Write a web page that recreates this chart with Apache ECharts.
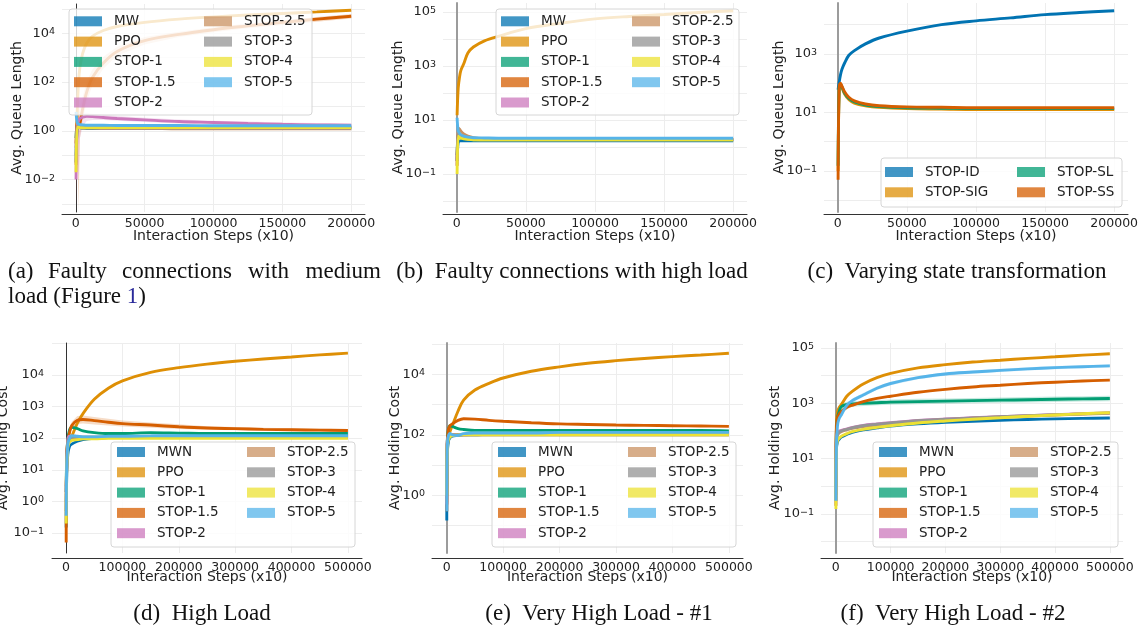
<!DOCTYPE html>
<html>
<head>
<meta charset="utf-8">
<script src="https://cdn.jsdelivr.net/npm/echarts@6/dist/echarts.min.js"></script>
<style>
html, body { margin: 0; padding: 0; background: #fff; }
#chart { width: 1146px; height: 634px; }
</style>
</head>
<body>
<div id="chart"></div>
<script>
// sample steps (x10)
var stepsShort = [200, 1000, 2000, 3000, 5000, 8000, 12000, 20000, 30000, 50000, 75000, 100000, 125000, 150000, 175000, 200000];
var stepsLong = [200, 1000, 3000, 6000, 10000, 20000, 30000, 50000, 75000, 100000, 150000, 200000, 250000, 300000, 350000, 400000, 450000, 500000];

// (a) faulty connections, medium load
var aMW = [0.05, 1.3, 1.4, 1.45, 1.45, 1.45, 1.45, 1.45, 1.45, 1.45, 1.45, 1.45, 1.45, 1.45, 1.45, 1.45];
var aPPO = [0.04, 5, 100, 400, 1500, 4000, 7500, 13000, 19000, 28000, 38000, 47000, 56000, 65000, 75000, 88000];
var aStop1 = [0.5, 1.8, 1.5, 1.35, 1.3, 1.25, 1.25, 1.25, 1.25, 1.25, 1.25, 1.25, 1.25, 1.25, 1.25, 1.3];
var aStop15 = [0.3, 3, 1.5, 2, 8, 40, 150, 600, 1800, 5000, 9000, 14000, 20000, 28000, 38000, 50000];
var aStop15Lo = [0.0005, 1, 0.0005, 0.5, 3, 15, 70, 350, 1200, 3500, 7000, 11000, 16000, 22000, 30000, 40000];
var aStop15Hi = [1, 6, 8, 10, 25, 110, 330, 1100, 2800, 7000, 11500, 17500, 25000, 34000, 46000, 62000];
var aStop2 = [0.01, 1.5, 2.5, 3.2, 3.6, 3.9, 3.8, 3.5, 3.2, 2.8, 2.4, 2.2, 2.0, 1.85, 1.75, 1.7];
var aStop2Lo = [0.0005, 0.3, 0.01, 0.5, 1.5, 2.5, 2.8, 2.8, 2.6, 2.3, 2.0, 1.8, 1.7, 1.6, 1.5, 1.5];
var aStop2Hi = [0.5, 4, 6, 6, 5.5, 5.5, 5, 4.5, 4, 3.4, 2.9, 2.6, 2.4, 2.2, 2.1, 2.0];
var aStop25 = [0.2, 1.6, 1.5, 1.4, 1.3, 1.3, 1.3, 1.25, 1.25, 1.25, 1.2, 1.2, 1.2, 1.2, 1.2, 1.2];
var aStop3 = [0.1, 1.5, 1.4, 1.35, 1.3, 1.3, 1.3, 1.3, 1.3, 1.3, 1.3, 1.3, 1.3, 1.3, 1.3, 1.3];
var aStop4 = [0.02, 1.4, 1.4, 1.35, 1.35, 1.35, 1.35, 1.35, 1.35, 1.35, 1.35, 1.35, 1.35, 1.35, 1.35, 1.35];
var aStop5 = [6, 2.2, 1.9, 1.8, 1.75, 1.7, 1.7, 1.7, 1.65, 1.65, 1.65, 1.6, 1.6, 1.6, 1.6, 1.6];

// (b) faulty connections, high load
var bMW = [0.3, 1.5, 1.65, 1.7, 1.7, 1.7, 1.7, 1.7, 1.7, 1.7, 1.7, 1.7, 1.7, 1.7, 1.7, 1.7];
var bPPO = [15, 150, 400, 700, 1200, 3000, 5000, 8500, 12500, 24000, 38000, 55000, 68000, 80000, 95000, 110000];
var bStop1 = [0.5, 3, 2.5, 2.2, 2.0, 1.9, 1.85, 1.8, 1.8, 1.8, 1.8, 1.8, 1.8, 1.8, 1.8, 1.8];
var bStop15 = [0.3, 3.5, 3, 2.6, 2.3, 2.1, 2.0, 1.95, 1.9, 1.9, 1.9, 1.9, 1.9, 1.9, 1.9, 1.9];
var bStop2 = [0.2, 3, 2.7, 2.4, 2.2, 2.0, 1.95, 1.9, 1.9, 1.9, 1.9, 1.9, 1.9, 1.9, 1.9, 1.9];
var bStop25 = [0.2, 5, 4.5, 3.8, 3, 2.5, 2.2, 2.0, 1.95, 1.9, 1.9, 1.9, 1.9, 1.9, 1.9, 1.9];
var bStop3 = [0.3, 3, 2.6, 2.3, 2.1, 1.9, 1.85, 1.8, 1.8, 1.8, 1.8, 1.8, 1.8, 1.8, 1.8, 1.8];
var bStop4 = [0.1, 2.5, 2.3, 2.1, 2.0, 1.9, 1.85, 1.85, 1.85, 1.85, 1.85, 1.85, 1.85, 1.85, 1.85, 1.85];
var bStop5 = [12, 4, 3.2, 2.8, 2.5, 2.3, 2.2, 2.15, 2.1, 2.1, 2.1, 2.1, 2.1, 2.1, 2.1, 2.1];

// (c) varying state transformation
var cID = [60, 110, 200, 300, 500, 900, 1300, 2200, 3500, 6000, 10000, 13500, 17000, 22000, 26000, 30000];
var cSIG = [0.1, 70, 85, 70, 42, 28, 21, 17, 15, 13.5, 13, 12.5, 12.5, 12.5, 12.5, 12.5];
var cSIGLo = [0.05, 50, 65, 55, 34, 23, 18, 15, 13.5, 12.3, 11.8, 11.5, 11.5, 11.5, 11.5, 11.5];
var cSIGHi = [0.3, 90, 110, 90, 55, 35, 26, 20, 17, 15, 14.3, 13.8, 13.6, 13.6, 13.6, 13.6];
var cSL = [0.15, 75, 90, 75, 45, 30, 23, 18, 16, 14.5, 14, 13.5, 13.5, 13.5, 13.5, 13.5];
var cSS = [0.05, 80, 100, 80, 50, 33, 25, 19.5, 17, 15.5, 15, 14.5, 14.5, 14.5, 14.5, 14.5];

// (d) high load
var dMWN = [0.15, 5, 30, 55, 65, 80, 90, 100, 105, 110, 115, 115, 115, 115, 118, 118, 120, 120];
var dPPO = [0.5, 20, 60, 90, 115, 300, 600, 1700, 3800, 6500, 12000, 17000, 22000, 27000, 32000, 37000, 43000, 49000];
var dStop1 = [2, 20, 90, 180, 220, 200, 170, 150, 140, 140, 150, 145, 140, 140, 140, 140, 140, 140];
var dStop15 = [0.05, 30, 80, 150, 250, 370, 390, 360, 320, 290, 260, 230, 210, 200, 190, 185, 180, 175];
var dStop15Lo = [0.03, 20, 60, 110, 190, 280, 290, 270, 250, 235, 215, 195, 185, 178, 170, 165, 162, 158];
var dStop15Hi = [0.08, 45, 110, 200, 330, 500, 520, 470, 410, 360, 315, 275, 240, 225, 212, 205, 198, 192];
var dStop2 = [2, 10, 90, 115, 110, 105, 105, 105, 105, 105, 105, 105, 105, 105, 105, 105, 105, 105];
var dStop25 = [3, 10, 70, 100, 105, 105, 105, 105, 105, 105, 105, 105, 108, 108, 108, 108, 108, 108];
var dStop3 = [1, 10, 80, 100, 105, 110, 110, 110, 110, 110, 110, 110, 110, 110, 110, 110, 110, 110];
var dStop4 = [0.2, 8, 50, 75, 85, 90, 95, 95, 100, 100, 100, 100, 100, 100, 100, 100, 100, 100];
var dStop5 = [0.35, 10, 60, 100, 120, 115, 110, 110, 115, 115, 118, 120, 120, 120, 120, 120, 120, 120];

// (e) very high load #1
var eMWN = [0.15, 20, 60, 80, 90, 95, 100, 100, 105, 105, 110, 110, 110, 115, 115, 115, 115, 115];
var ePPO = [0.5, 30, 80, 130, 200, 600, 1400, 3000, 5000, 7500, 12500, 17500, 23000, 28000, 33000, 38000, 43000, 49000];
var eStop1 = [1, 60, 150, 200, 190, 160, 150, 140, 140, 140, 140, 140, 140, 140, 140, 140, 140, 135];
var eStop15 = [0.3, 50, 150, 200, 230, 300, 340, 330, 300, 280, 250, 230, 220, 210, 205, 200, 195, 190];
var eStop2 = [0.5, 60, 90, 100, 100, 100, 100, 105, 105, 105, 105, 105, 105, 105, 105, 105, 105, 105];
var eStop25 = [0.6, 50, 85, 95, 100, 100, 100, 100, 100, 100, 100, 100, 100, 100, 100, 100, 100, 100];
var eStop3 = [2, 50, 80, 90, 95, 100, 100, 100, 100, 100, 100, 100, 100, 100, 100, 100, 100, 100];
var eStop4 = [1, 40, 70, 85, 95, 98, 100, 100, 100, 100, 100, 100, 100, 100, 100, 100, 100, 100];
var eStop5 = [0.3, 40, 90, 110, 100, 95, 110, 115, 115, 115, 115, 120, 120, 120, 120, 120, 120, 120];

// (f) very high load #2
var fMWN = [0.3, 20, 40, 50, 60, 75, 90, 110, 130, 150, 180, 205, 225, 245, 260, 275, 285, 295];
var fPPO = [1, 150, 500, 700, 900, 1800, 2700, 5000, 8500, 12000, 19000, 25000, 31000, 36000, 42000, 48000, 55000, 62000];
var fStop1 = [1, 80, 300, 500, 750, 900, 950, 1000, 1050, 1100, 1150, 1200, 1250, 1300, 1350, 1400, 1450, 1500];
var fStop1Lo = [0.5, 50, 200, 350, 550, 700, 750, 800, 850, 880, 920, 960, 1000, 1040, 1080, 1120, 1160, 1200];
var fStop1Hi = [2, 120, 400, 650, 950, 1150, 1200, 1250, 1300, 1380, 1450, 1500, 1560, 1620, 1690, 1750, 1810, 1880];
var fStop15 = [0.5, 100, 300, 400, 500, 700, 850, 1150, 1500, 1800, 2500, 3200, 3900, 4500, 5200, 5800, 6400, 6900];
var fStop2 = [0.2, 50, 90, 100, 105, 120, 135, 160, 180, 200, 240, 270, 300, 330, 360, 390, 420, 450];
var fStop25 = [0.2, 40, 70, 85, 95, 110, 125, 145, 165, 185, 225, 255, 290, 320, 350, 380, 410, 440];
var fStop3 = [0.3, 40, 75, 90, 100, 115, 130, 155, 175, 195, 235, 265, 295, 325, 355, 385, 415, 450];
var fStop4 = [0.15, 25, 45, 55, 65, 80, 95, 115, 135, 155, 195, 230, 265, 300, 340, 380, 420, 460];
var fStop5 = [0.3, 20, 150, 280, 380, 850, 1250, 2000, 3500, 5200, 8500, 11500, 13500, 15500, 17500, 19500, 21000, 22500];
var fStop5Lo = [0.2, 15, 110, 220, 300, 700, 1050, 1700, 3000, 4500, 7400, 10000, 11800, 13500, 15300, 17000, 18400, 19600];
var fStop5Hi = [0.4, 28, 200, 350, 470, 1000, 1500, 2350, 4100, 6000, 9800, 13200, 15500, 17800, 20000, 22300, 24000, 25800];

// y tick exponents that carry a label
var yLabelled = [[-2, 0, 2, 4], [-1, 1, 3, 5], [-1, 1, 3], [-1, 0, 1, 2, 3, 4], [0, 2, 4], [-1, 1, 3, 5]];

var FONT = 'DejaVu Sans';
var SERIF = 'Liberation Serif';
var palette = {
	'MW': '#0173b2', 'MWN': '#0173b2', 'STOP-ID': '#0173b2',
	'PPO': '#de8f05', 'STOP-SIG': '#de8f05',
	'STOP-1': '#029e73', 'STOP-SL': '#029e73',
	'STOP-1.5': '#d55e00', 'STOP-SS': '#d55e00',
	'STOP-2': '#cc78bc', 'STOP-2.5': '#ca9161', 'STOP-3': '#949494',
	'STOP-4': '#ece133', 'STOP-5': '#56b4e9'
};

function rgba(hex, a) {
	var n = parseInt(hex.slice(1), 16);
	return 'rgba(' + (n >> 16) + ',' + ((n >> 8) & 255) + ',' + (n & 255) + ',' + a + ')';
}

function lineSeries(p, name, xs, ys) {
	var data = [];
	for (var i = 0; i < xs.length; i++) data.push([xs[i], ys[i]]);
	return {
		type: 'line', name: name, xAxisIndex: p, yAxisIndex: p, data: data,
		symbol: 'none', showSymbol: false, smooth: 0.35,
		lineStyle: { width: 2.9, color: palette[name] },
		itemStyle: { color: palette[name] },
		silent: true, z: 2
	};
}

// shaded spread around a curve, drawn as one polygon through the axes
function bandSeries(p, name, xs, lo, hi) {
	var data = [];
	for (var i = 0; i < xs.length; i++) data.push([xs[i], lo[i], hi[i]]);
	var fill = rgba(palette[name], 0.22);
	return {
		type: 'custom', xAxisIndex: p, yAxisIndex: p, data: data,
		encode: { x: 0, y: [1, 2] }, clip: true, silent: true, z: 1,
		renderItem: function (params, api) {
			if (params.dataIndex !== 0) return null;
			var up = [], dn = [];
			for (var j = 0; j < params.dataInsideLength; j++) {
				up.push(api.coord([api.value(0, j), api.value(2, j)]));
				dn.unshift(api.coord([api.value(0, j), api.value(1, j)]));
			}
			return { type: 'polygon', shape: { points: up.concat(dn) }, style: { fill: fill } };
		}
	};
}

var grids = [
	{ left: 62, top: 4, width: 303, height: 208 },
	{ left: 443, top: 3, width: 304, height: 209 },
	{ left: 824, top: 3, width: 304, height: 209 },
	{ left: 52, top: 343, width: 310, height: 210 },
	{ left: 432, top: 343, width: 311, height: 210 },
	{ left: 821, top: 343, width: 302, height: 210 }
];
var xRange = [[-10000, 210000], [-10000, 210000], [-10000, 210000], [-25000, 525000], [-26000, 525000], [-27000, 524000]];
var xStep = [50000, 50000, 50000, 100000, 100000, 100000];
var yRange = [[-3.33, 5.2], [-2.41, 5.33], [-2.4, 4.74], [-1.63, 5.01], [-1.9, 5.03], [-2.41, 5.18]];
var yNames = ['Avg. Queue Length', 'Avg. Queue Length', 'Avg. Queue Length', 'Avg. Holding Cost', 'Avg. Holding Cost', 'Avg. Holding Cost'];
var yNameGap = [35, 35, 35, 38, 27, 36];
var yOff = [3, 3, 3, 4, 3, 3];
var yLineColor = ['#333', '#9c9c9c', '#9c9c9c', '#333', '#9c9c9c', '#9c9c9c'];
var yLineWidth = [1, 2, 2, 1, 2, 2];
var xOff = [2, 2, 2, 5, 5, 5];
var xNameGap = [15, 15, 15, 12, 12, 12];

function logLabel(shown) {
	return function (v) {
		var l = Math.log10(v);
		var e = Math.round(l);
		if (Math.abs(l - e) > 1e-6 || shown.indexOf(e) < 0) return '';
		return '{b|10}{e|' + String(e).replace('-', '\u2212') + '}';
	};
}
function stepLabel(step, max) {
	return function (v) {
		if (v < 0 || v > max || v % step !== 0) return '';
		return String(v);
	};
}

var xAxes = [], yAxes = [];
for (var p = 0; p < 6; p++) {
	xAxes.push({
		type: 'value', gridIndex: p, min: xRange[p][0], max: xRange[p][1], offset: xOff[p], splitNumber: 5,
		name: 'Interaction Steps (x10)', nameLocation: 'middle', nameGap: xNameGap[p], nameMoveOverlap: false,
		nameTextStyle: { fontFamily: FONT, fontSize: 14, color: '#222' },
		axisLine: { show: true, onZero: false, lineStyle: { color: '#333', width: 1 } },
		axisTick: { show: false },
		axisLabel: {
			margin: 3, fontFamily: FONT, fontSize: 12.5, color: '#222',
			showMinLabel: false, showMaxLabel: false,
			formatter: stepLabel(xStep[p], p < 3 ? 200000 : 500000)
		},
		splitLine: { show: true, showMinLine: false, showMaxLine: false, lineStyle: { color: '#ededed', width: 1 } }
	});
	yAxes.push({
		type: 'log', logBase: 10, gridIndex: p,
		min: Math.pow(10, yRange[p][0]), max: Math.pow(10, yRange[p][1]), offset: yOff[p],
		name: yNames[p], nameLocation: 'middle', nameGap: yNameGap[p], nameMoveOverlap: false,
		nameTextStyle: { fontFamily: FONT, fontSize: 14, color: '#222' },
		axisLine: { show: true, lineStyle: { color: yLineColor[p], width: yLineWidth[p] } },
		axisTick: { show: false },
		axisLabel: {
			margin: 4, color: '#222', showMinLabel: false, showMaxLabel: false,
			formatter: logLabel(yLabelled[p]),
			rich: {
				b: { fontFamily: FONT, fontSize: 13, color: '#222', verticalAlign: 'bottom', lineHeight: 13 },
				e: { fontFamily: FONT, fontSize: 9.5, color: '#222', verticalAlign: 'top', lineHeight: 9, padding: [0, 0, 5, 0] }
			}
		},
		splitLine: { show: true, showMinLine: false, showMaxLine: false, lineStyle: { color: '#ededed', width: 1 } },
		minorTick: { show: false }, minorSplitLine: { show: false }
	});
}

var series = [];
// (a)
series.push(bandSeries(0, 'STOP-1.5', stepsShort, aStop15Lo, aStop15Hi));
series.push(bandSeries(0, 'STOP-2', stepsShort, aStop2Lo, aStop2Hi));
series.push(lineSeries(0, 'MW', stepsShort, aMW));
series.push(lineSeries(0, 'PPO', stepsShort, aPPO));
series.push(lineSeries(0, 'STOP-1', stepsShort, aStop1));
series.push(lineSeries(0, 'STOP-1.5', stepsShort, aStop15));
series.push(lineSeries(0, 'STOP-2', stepsShort, aStop2));
series.push(lineSeries(0, 'STOP-2.5', stepsShort, aStop25));
series.push(lineSeries(0, 'STOP-3', stepsShort, aStop3));
series.push(lineSeries(0, 'STOP-4', stepsShort, aStop4));
series.push(lineSeries(0, 'STOP-5', stepsShort, aStop5));
// (b)
series.push(lineSeries(1, 'MW', stepsShort, bMW));
series.push(lineSeries(1, 'PPO', stepsShort, bPPO));
series.push(lineSeries(1, 'STOP-1', stepsShort, bStop1));
series.push(lineSeries(1, 'STOP-1.5', stepsShort, bStop15));
series.push(lineSeries(1, 'STOP-2', stepsShort, bStop2));
series.push(lineSeries(1, 'STOP-2.5', stepsShort, bStop25));
series.push(lineSeries(1, 'STOP-3', stepsShort, bStop3));
series.push(lineSeries(1, 'STOP-4', stepsShort, bStop4));
series.push(lineSeries(1, 'STOP-5', stepsShort, bStop5));
// (c)
series.push(bandSeries(2, 'STOP-SIG', stepsShort, cSIGLo, cSIGHi));
series.push(lineSeries(2, 'STOP-ID', stepsShort, cID));
series.push(lineSeries(2, 'STOP-SIG', stepsShort, cSIG));
series.push(lineSeries(2, 'STOP-SL', stepsShort, cSL));
series.push(lineSeries(2, 'STOP-SS', stepsShort, cSS));
// (d)
series.push(bandSeries(3, 'STOP-1.5', stepsLong, dStop15Lo, dStop15Hi));
series.push(lineSeries(3, 'MWN', stepsLong, dMWN));
series.push(lineSeries(3, 'PPO', stepsLong, dPPO));
series.push(lineSeries(3, 'STOP-1', stepsLong, dStop1));
series.push(lineSeries(3, 'STOP-1.5', stepsLong, dStop15));
series.push(lineSeries(3, 'STOP-2', stepsLong, dStop2));
series.push(lineSeries(3, 'STOP-2.5', stepsLong, dStop25));
series.push(lineSeries(3, 'STOP-3', stepsLong, dStop3));
series.push(lineSeries(3, 'STOP-4', stepsLong, dStop4));
series.push(lineSeries(3, 'STOP-5', stepsLong, dStop5));
// (e)
series.push(lineSeries(4, 'MWN', stepsLong, eMWN));
series.push(lineSeries(4, 'PPO', stepsLong, ePPO));
series.push(lineSeries(4, 'STOP-1', stepsLong, eStop1));
series.push(lineSeries(4, 'STOP-1.5', stepsLong, eStop15));
series.push(lineSeries(4, 'STOP-2', stepsLong, eStop2));
series.push(lineSeries(4, 'STOP-2.5', stepsLong, eStop25));
series.push(lineSeries(4, 'STOP-3', stepsLong, eStop3));
series.push(lineSeries(4, 'STOP-4', stepsLong, eStop4));
series.push(lineSeries(4, 'STOP-5', stepsLong, eStop5));
// (f)
series.push(bandSeries(5, 'STOP-1', stepsLong, fStop1Lo, fStop1Hi));
series.push(bandSeries(5, 'STOP-5', stepsLong, fStop5Lo, fStop5Hi));
series.push(lineSeries(5, 'MWN', stepsLong, fMWN));
series.push(lineSeries(5, 'PPO', stepsLong, fPPO));
series.push(lineSeries(5, 'STOP-1', stepsLong, fStop1));
series.push(lineSeries(5, 'STOP-1.5', stepsLong, fStop15));
series.push(lineSeries(5, 'STOP-2', stepsLong, fStop2));
series.push(lineSeries(5, 'STOP-2.5', stepsLong, fStop25));
series.push(lineSeries(5, 'STOP-3', stepsLong, fStop3));
series.push(lineSeries(5, 'STOP-4', stepsLong, fStop4));
series.push(lineSeries(5, 'STOP-5', stepsLong, fStop5));

// legends: two columns per panel, [left col1, left col2, top]
var legendCols = [
	[['MW', 'PPO', 'STOP-1', 'STOP-1.5', 'STOP-2'], ['STOP-2.5', 'STOP-3', 'STOP-4', 'STOP-5']],
	[['MW', 'PPO', 'STOP-1', 'STOP-1.5', 'STOP-2'], ['STOP-2.5', 'STOP-3', 'STOP-4', 'STOP-5']],
	[['STOP-ID', 'STOP-SIG'], ['STOP-SL', 'STOP-SS']],
	[['MWN', 'PPO', 'STOP-1', 'STOP-1.5', 'STOP-2'], ['STOP-2.5', 'STOP-3', 'STOP-4', 'STOP-5']],
	[['MWN', 'PPO', 'STOP-1', 'STOP-1.5', 'STOP-2'], ['STOP-2.5', 'STOP-3', 'STOP-4', 'STOP-5']],
	[['MWN', 'PPO', 'STOP-1', 'STOP-1.5', 'STOP-2'], ['STOP-2.5', 'STOP-3', 'STOP-4', 'STOP-5']]
];
var legendPos = [[74, 204, 13.8], [501, 632, 13.8], [885, 1017, 164.5], [117, 247, 444.5], [498, 628, 444.5], [879, 1010, 444.5]];
var legendBox = [[69, 9, 243, 106], [496, 9, 243, 106], [881, 158, 241, 49], [111, 442, 244, 105], [492, 442, 244, 105], [873, 442, 245, 105]];

var legends = [];
var graphics = [];
for (var k = 0; k < 6; k++) {
	for (var c = 0; c < 2; c++) {
		legends.push({
			left: legendPos[k][c], top: legendPos[k][2], orient: 'vertical', padding: 0,
			icon: 'rect', itemWidth: 28, itemHeight: 10, itemGap: 5.3, selectedMode: false, z: 10,
			itemStyle: { opacity: 0.75 }, lineStyle: { width: 0 },
			textStyle: { fontFamily: FONT, fontSize: 13.5, color: '#222', lineHeight: 15, padding: [0, 0, 0, 7] },
			data: legendCols[k][c].map(function (n) {
				return { name: n, itemStyle: { color: palette[n], opacity: 0.75 } };
			})
		});
	}
	var b = legendBox[k];
	graphics.push({
		type: 'rect', z: 9, silent: true,
		shape: { x: b[0], y: b[1], width: b[2], height: b[3], r: 3 },
		style: { fill: 'rgba(255,255,255,0.8)', stroke: '#d6d6d6', lineWidth: 1 }
	});
}

// captions under the panels
var CAP = 23;
function caption(text, x, y, align, rich) {
	return {
		type: 'text', x: x, y: y, silent: true,
		style: { text: text, align: align, verticalAlign: 'middle', fontFamily: SERIF, fontSize: CAP, fill: '#111', rich: rich || {} }
	};
}
// first caption line is justified across the column
graphics.push(caption('(a)', 8, 272, 'left'));
graphics.push(caption('Faulty', 48, 272, 'left'));
graphics.push(caption('connections', 122, 272, 'left'));
graphics.push(caption('with', 248, 272, 'left'));
graphics.push(caption('medium', 381, 272, 'right'));
graphics.push(caption('load (Figure {l|1})', 8, 297, 'left', { l: { fill: '#2a2a9a', fontFamily: SERIF, fontSize: CAP } }));
graphics.push(caption('(b)  Faulty connections with high load', 572, 272, 'center'));
graphics.push(caption('(c)  Varying state transformation', 957, 272, 'center'));
graphics.push(caption('(d)  High Load', 202, 614, 'center'));
graphics.push(caption('(e)  Very High Load - #1', 599, 614, 'center'));
graphics.push(caption('(f)  Very High Load - #2', 953, 614, 'center'));

var chart = echarts.init(document.getElementById('chart'), null, { renderer: 'canvas' });
chart.setOption({
	animation: false,
	backgroundColor: '#ffffff',
	textStyle: { fontFamily: FONT },
	grid: grids.map(function (g) {
		return Object.assign({ outerBoundsMode: 'none', containLabel: false }, g);
	}),
	xAxis: xAxes,
	yAxis: yAxes,
	legend: legends,
	series: series,
	graphic: graphics
});
</script>
</body>
</html>
